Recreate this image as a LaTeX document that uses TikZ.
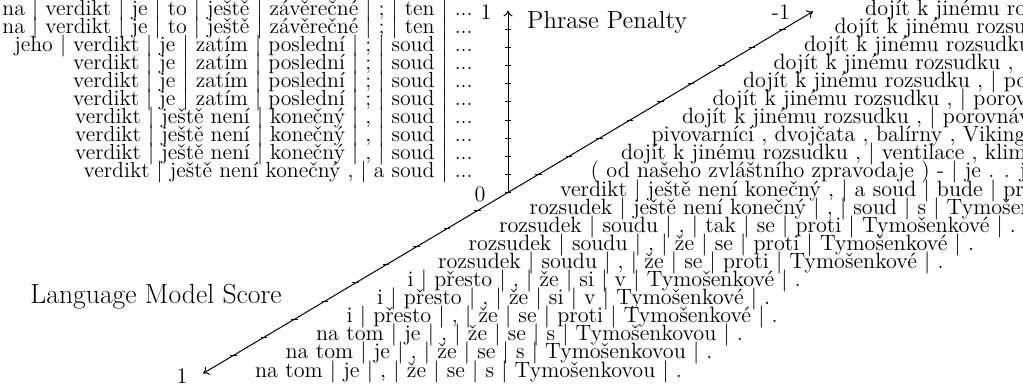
\documentclass[tikz,border=0pt]{standalone}
\usetikzlibrary{arrows.meta}

\begin{document}
\begin{tikzpicture}[
    x=0.6432cm, y=0.3817cm,
    >={To[length=3.5pt, width=5.5pt]},
    axis/.style={line width=0.6pt},
    axistick/.style={line width=0.6pt},
    hypright/.style={anchor=mid west, inner sep=0pt,
        font=\fontsize{13.3}{13.5}\selectfont},
    hypleft/.style={anchor=mid east, inner sep=0pt,
        font=\fontsize{13.1}{13.5}\selectfont},
    axisnum/.style={inner sep=0pt, font=\fontsize{13.3}{13.5}\selectfont},
    axistitle/.style={anchor=mid west, inner sep=0pt,
        font=\fontsize{14.8}{16}\selectfont},
]

\useasboundingbox (-16.656,-10.691) rectangle (16.885,10.635);
\clip (-16.656,-10.691) rectangle (16.885,10.635);

% =====================================================
% Axes: phrase penalty (up) and LM score (diagonal)
% =====================================================
\coordinate (origin) at (0, 0);
\coordinate (ppend) at (0, 10.05);
\coordinate (lmtop) at (10, 10);
\coordinate (lmbot) at (-10, -10);

\draw[->, axis] (origin) -- (ppend);
\draw[<->, axis] (lmbot) -- (lmtop);

\foreach \k in {1,...,9} {
    \draw[axistick] (0, \k) +(-0.1, 0) -- +(0.1, 0);
    \draw[axistick] (\k, \k) +(-0.1, 0) -- +(0.1, 0);
    \draw[axistick] (-\k, -\k) +(-0.1, 0) -- +(0.1, 0);
}
\draw[axistick] (origin) +(-0.1, 0) -- +(0.1, 0);

\node[axisnum] (pp1) at (-0.72, 9.97) {1};
\node[axisnum] (pp0) at (-0.92, -0.08) {0};
\node[axisnum] (lmneg) at (8.95, 9.97) {-1};
\node[axisnum] (lmpos) at (-10.69, -10.15) {1};

\node[axistitle] (pptitle) at (0.62, 9.25) {Phrase Penalty};
\node[axistitle, font=\fontsize{16.6}{18}\selectfont] (lmtitle)
    at (-15.67, -5.94) {Language Model Score};

% =====================================================
% Hypotheses left of the penalty axis
% =====================================================
\node[hypleft] (l10) at (-1.15, 10)
    {na | verdikt | je | to | ještě | závěrečné | ; | ten | ...};
\node[hypleft] (l9) at (-1.15, 9)
    {na | verdikt | je | to | ještě | závěrečné | ; | ten | ...};
\node[hypleft] (l8) at (-1.15, 8)
    {jeho | verdikt | je | zatím | poslední | ; | soud | ...};
\node[hypleft] (l7) at (-1.15, 7)
    {verdikt | je | zatím | poslední | ; | soud | ...};
\node[hypleft] (l6) at (-1.15, 6)
    {verdikt | je | zatím | poslední | ; | soud | ...};
\node[hypleft] (l5) at (-1.15, 5)
    {verdikt | je | zatím | poslední | ; | soud | ...};
\node[hypleft] (l4) at (-1.15, 4)
    {verdikt | ještě není | konečný | , | soud | ...};
\node[hypleft] (l3) at (-1.15, 3)
    {verdikt | ještě není | konečný | , | soud | ...};
\node[hypleft] (l2) at (-1.15, 2)
    {verdikt | ještě není | konečný | , | soud | ...};
\node[hypleft] (l1) at (-1.15, 1)
    {verdikt | ještě není konečný , | a soud | ...};

% =====================================================
% Hypotheses along the LM score axis
% =====================================================
\node[hypright] (r10) at (11.7, 10)
    {dojít k jinému rozsudku , | porovnávání};
\node[hypright] (r9) at (10.7, 9)
    {dojít k jinému rozsudku , | porovnávání};
\node[hypright] (r8) at (9.7, 8)
    {dojít k jinému rozsudku , | porovnávání};
\node[hypright] (r7) at (8.7, 7)
    {dojít k jinému rozsudku , | porovnávání};
\node[hypright] (r6) at (7.7, 6)
    {dojít k jinému rozsudku , | porovnávání};
\node[hypright] (r5) at (6.7, 5)
    {dojít k jinému rozsudku , | porovnávání};
\node[hypright] (r4) at (5.7, 4)
    {dojít k jinému rozsudku , | porovnávání};
\node[hypright] (r3) at (4.7, 3)
    {pivovarníci , dvojčata , balírny , Vikingové};
\node[hypright] (r2) at (3.7, 2)
    {dojít k jinému rozsudku , | ventilace , klimatizace};
\node[hypright] (r1) at (2.7, 1)
    {( od našeho zvláštního zpravodaje ) - | je . . je . .};
\node[hypright] (r0) at (1.7, 0)
    {verdikt | ještě není konečný , | a soud | bude | proti};
\node[hypright] (rm1) at (0.7, -1)
    {rozsudek | ještě není konečný | , | soud | s | Tymošenkovou};
\node[hypright] (rm2) at (-0.3, -2)
    {rozsudek | soudu | , | tak | se | proti | Tymošenkové | .};
\node[hypright] (rm3) at (-1.3, -3)
    {rozsudek | soudu | , | že | se | proti | Tymošenkové | .};
\node[hypright] (rm4) at (-2.3, -4)
    {rozsudek | soudu | , | že | se | proti | Tymošenkové | .};
\node[hypright] (rm5) at (-3.3, -5)
    {i | přesto | , | že | si | v | Tymošenkové | .};
\node[hypright] (rm6) at (-4.3, -6)
    {i | přesto | , | že | si | v | Tymošenkové | .};
\node[hypright] (rm7) at (-5.3, -7)
    {i | přesto | , | že | se | proti | Tymošenkové | .};
\node[hypright] (rm8) at (-6.3, -8)
    {na tom | je | , | že | se | s | Tymošenkovou | .};
\node[hypright] (rm9) at (-7.3, -9)
    {na tom | je | , | že | se | s | Tymošenkovou | .};
\node[hypright] (rm10) at (-8.3, -10)
    {na tom | je | , | že | se | s | Tymošenkovou | .};

\end{tikzpicture}
\end{document}
